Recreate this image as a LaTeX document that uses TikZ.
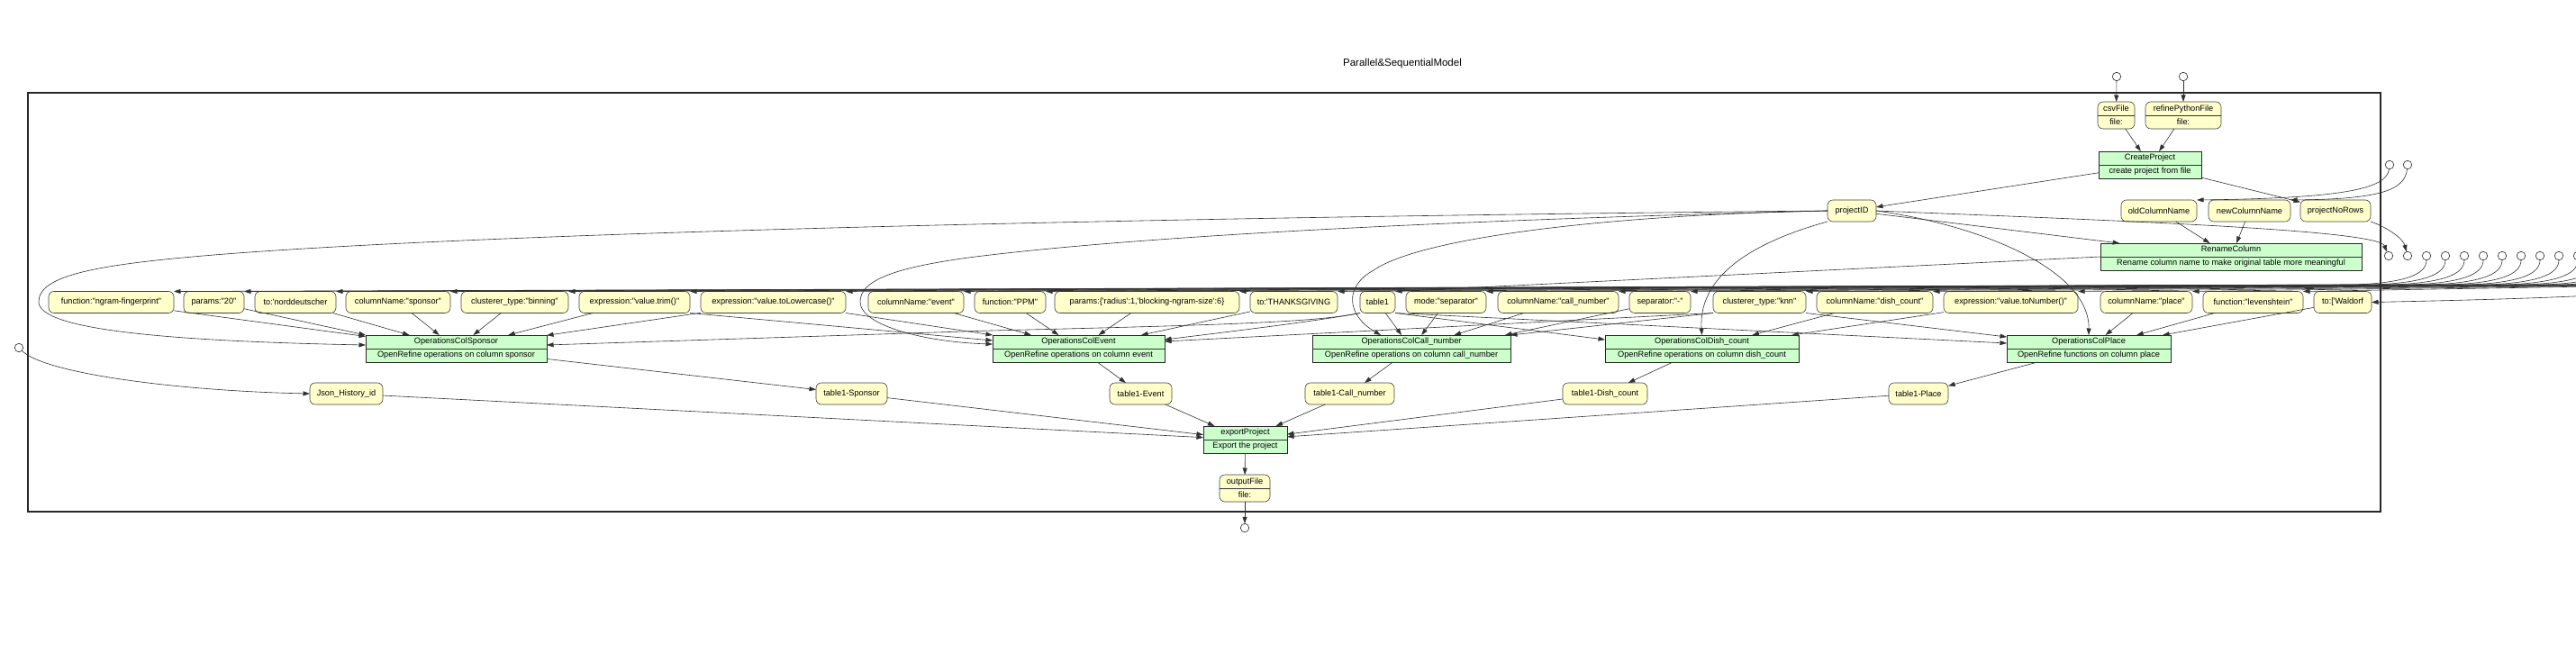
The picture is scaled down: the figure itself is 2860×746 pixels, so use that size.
\documentclass[tikz,border=0pt]{standalone}
\usepackage{fontspec}
\newfontfamily\lsans{Liberation Sans}
\usetikzlibrary{arrows.meta,calc}
\definecolor{yel}{HTML}{FFFFCC}
\definecolor{grn}{HTML}{CCFFCC}
\definecolor{edgec}{HTML}{303030}
\newcommand\Prog[6]{%
  \node[prog, minimum width=#4] (#1) at (#2,#3) {#5\\#6};
  \draw[sepline] (#1.west) -- (#1.east);}
\newcommand\Dat[6]{%
  \node[data2, minimum width=#4] (#1) at (#2,#3) {#5\\#6};
  \draw[sepline] (#1.west) -- (#1.east);}
\begin{document}
\begin{tikzpicture}[x=1pt,y=-1pt,
  every node/.style={font=\lsans\fontsize{9.2}{15}\selectfont, inner sep=0pt, outer sep=0pt},
  data/.style={draw=black!75, fill=yel, rounded corners=6pt, minimum height=24pt, line width=0.6pt},
  data2/.style={data, minimum height=30pt, align=center},
  prog/.style={draw=black!85, fill=grn, minimum height=30pt, align=center, line width=0.6pt},
  sepline/.style={draw=black!80, line width=0.6pt},
  port/.style={circle, draw=black!85, fill=white, minimum size=9.5pt, line width=0.6pt},
  arr/.style={draw=edgec, line width=0.6pt, -{Triangle[length=7.5pt,width=5pt]}},
  cluster/.style={draw=black!85, line width=1.3pt},
]
\useasboundingbox (0,0) rectangle (2860,746);
\clip (0,0) rectangle (2860,746);
\fill[white] (0,0) rectangle (2860,746);

\node[font=\lsans\fontsize{11.5}{13}\selectfont] (title) at (1557,71) {Parallel\&SequentialModel};
\draw[cluster] (31,103) rectangle (2643,568);

% ---------- top part ----------
\node[port] (ccsv) at (2350,85) {};
\node[port] (crpf) at (2424,85) {};
\Dat{csv}{2349.5}{128}{41}{csvFile}{file:}
\Dat{rpf}{2424}{128}{84}{refinePythonFile}{file:}
\Prog{cp}{2387}{183}{114}{CreateProject}{create project from file}
\node[port] (cold) at (2653,183) {};
\node[port] (cnew) at (2673,183) {};
\node[data, minimum width=54] (pid) at (2056,234) {projectID};
\node[data, minimum width=84] (oldcn) at (2397,234) {oldColumnName};
\node[data, minimum width=91] (newcn) at (2497.5,234) {newColumnName};
\node[data, minimum width=78] (nrows) at (2593,234) {projectNoRows};
\Prog{rc}{2477}{285}{290}{RenameColumn}{Rename column name to make original table more meaningful}
\node[port] (opid) at (2652,284) {};
\node[port] (onrows) at (2673,284) {};
\foreach \i in {1,...,20} {
  \pgfmathsetmacro\cx{2694+21*(\i-1)}
  \node[port] (k\i) at (\cx,284) {};
}

% ---------- parameter row ----------
\node[data, minimum width=139] (p1) at (123.5,335.5) {function:"ngram-fingerprint"};
\node[data, minimum width=67] (p2) at (237.5,335.5) {params:"20"};
\node[data, minimum width=90] (p3) at (328,335.5) {to:'norddeutscher};
\node[data, minimum width=116] (p4) at (442,335.5) {columnName:"sponsor"};
\node[data, minimum width=119] (p5) at (571.5,335.5) {clusterer\_type:"binning"};
\node[data, minimum width=123] (p6) at (704.5,335.5) {expression:"value.trim()"};
\node[data, minimum width=161] (p7) at (858.5,335.5) {expression:"value.toLowercase()"};
\node[data, minimum width=106] (p8) at (1017,335.5) {columnName:"event"};
\node[data, minimum width=79] (p9) at (1121.5,335.5) {function:"PPM"};
\node[data, minimum width=205] (p10) at (1273.5,335.5) {params:\{'radius':1,'blocking-ngram-size':6\}};
\node[data, minimum width=97] (p11) at (1436.5,335.5) {to:'THANKSGIVING};
\node[data, minimum width=39] (t1) at (1529.5,335.5) {table1};
\node[data, minimum width=89] (p12) at (1605.5,335.5) {mode:"separator"};
\node[data, minimum width=134] (p13) at (1730,335.5) {columnName:"call\_number"};
\node[data, minimum width=68] (p14) at (1843,335.5) {separator:"-"};
\node[data, minimum width=103] (p15) at (1953.5,335.5) {clusterer\_type:"knn"};
\node[data, minimum width=129] (p16) at (2081.5,335.5) {columnName:"dish\_count"};
\node[data, minimum width=149] (p17) at (2232.5,335.5) {expression:"value.toNumber()"};
\node[data, minimum width=102] (p18) at (2383,335.5) {columnName:"place"};
\node[data, minimum width=111] (p19) at (2501.5,335.5) {function:"levenshtein"};
\node[data, minimum width=64] (p20) at (2601,335.5) {to:['Waldorf};

% ---------- operations ----------
\Prog{ops}{506.5}{387}{201}{OperationsColSponsor}{OpenRefine operations on column sponsor}
\Prog{ope}{1197.5}{387}{191}{OperationsColEvent}{OpenRefine operations on column event}
\Prog{opc}{1567}{387}{220}{OperationsColCall\_number}{OpenRefine operations on column call\_number}
\Prog{opd}{1889.5}{387}{215}{OperationsColDish\_count}{OpenRefine operations on column dish\_count}
\Prog{opp}{2319}{387}{182}{OperationsColPlace}{OpenRefine functions on column place}

% ---------- outputs ----------
\node[port] (cjson) at (21,386) {};
\node[data, minimum width=81] (json) at (384.5,437) {Json\_History\_id};
\node[data, minimum width=79] (ts) at (945.5,437) {table1-Sponsor};
\node[data, minimum width=69] (te) at (1266.5,437) {table1-Event};
\node[data, minimum width=99] (tc) at (1498.5,437) {table1-Call\_number};
\node[data, minimum width=94] (td) at (1782,437) {table1-Dish\_count};
\node[data, minimum width=66] (tp) at (2130,437) {table1-Place};
\Prog{exp}{1382.5}{488}{93}{exportProject}{Export the project}
\Dat{out}{1382}{542}{56}{outputFile}{file:}
\node[port] (cout) at (1382,586) {};

% ---------- edges: top ----------
\draw[arr] (ccsv) -- (csv);
\draw[arr] (crpf) -- (rpf);
\draw[arr] (csv) -- (cp);
\draw[arr] (rpf) -- (cp);
\draw[arr] (cp) -- (pid);
\draw[arr] (cp) -- (nrows);
\draw[arr] (cold) .. controls (2650,210) and (2600,220) .. (oldcn.north east);
\draw[arr] (cnew) .. controls (2670,212) and (2640,221) .. (newcn.north east);
\draw[arr] (oldcn) -- (rc);
\draw[arr] (newcn) -- (rc);
\draw[arr] (pid) -- (rc);
\draw[arr] (pid.east) .. controls (2350,245) and (2640,255) .. (opid);
\draw[arr] (nrows.south east) .. controls (2650,252) and (2668,265) .. (onrows);
\draw[arr] (rc.west) -- (t1.north east);

% projectID to operations
\draw[arr] (pid.west) .. controls (1400,240) and (600,255) .. (250,282)
   .. controls (110,293) and (43,305) .. (43,335)
   .. controls (43,362) and (150,378) .. ($(ops.west)+(0,-4)$);
\draw[arr] (pid.west) .. controls (1700,242) and (1300,258) .. (1083,285)
   .. controls (990,297) and (955,312) .. (955,335)
   .. controls (955,362) and (1030,380) .. ($(ope.west)+(0,-5)$);
\draw[arr] (pid.west) .. controls (1800,238) and (1580,262) .. (1525,300)
   .. controls (1492,318) and (1495,350) .. ($(opc.north west)+(76,0)$);
\draw[arr] (pid.south west) .. controls (1960,265) and (1885,300) .. (opd.north);
\draw[arr] (pid.east) .. controls (2200,250) and (2320,300) .. (opp.north);

% parameter bundle
\foreach \i in {1,...,19} {
  \pgfmathsetmacro\cx{2694+21*(\i-1)}
  \draw[arr] (k\i) .. controls (\cx,305) and (\cx-25,314) .. (\cx-80,316) -- (p\i.north east);
}
\draw[arr] (k20) .. controls (3093,322) and (2900,330) .. (p20.east);

% into sponsor
\draw[arr] (p1) -- (ops);
\draw[arr] (p2) -- (ops.north west);
\draw[arr] (p3) -- (ops);
\draw[arr] (p4) -- (ops);
\draw[arr] (p5) -- (ops);
\draw[arr] (p6) -- (ops);
\draw[arr] (p7) -- (ops);
\draw[arr] (t1.south west) .. controls (1460,358) and (1350,361) .. (1100,367) -- ($(ops.east)+(0,-4)$);
% into event
\draw[arr] (p6.south east) -- ($(ope.west)+(0,-9)$);
\draw[arr] (p7.south east) -- (ope.north west);
\draw[arr] (p8) -- (ope);
\draw[arr] (p9) -- (ope);
\draw[arr] (p10) -- (ope);
\draw[arr] (p11) -- (ope);
\draw[arr] (t1.south west) .. controls (1460,357) and (1350,370) .. ($(ope.east)+(0,-10)$);
\draw[arr] (p15.south west) -- ($(ope.east)+(0,-8)$);
% into call_number
\draw[arr] (t1) -- (opc);
\draw[arr] (p12) -- (opc);
\draw[arr] (p13) -- (opc);
\draw[arr] (p14) -- ($(opc.north east)+(-6,0)$);
\draw[arr] (p15.south west) -- (opc.north east);
% into dish_count
\draw[arr] (t1.south east) -- ($(opd.west)+(0,-10)$);
\draw[arr] (p16) -- (opd);
\draw[arr] (p17) -- (opd);
% into place
\draw[arr] (t1.south east) -- ($(opp.west)+(0,-6)$);
\draw[arr] (p15.south east) -- ($(opp.west)+(0,-13)$);
\draw[arr] (p18) -- (opp);
\draw[arr] (p19) -- (opp);
\draw[arr] (p20) -- (opp);

% outputs
\draw[arr] (ops) -- (ts);
\draw[arr] (ope) -- (te);
\draw[arr] (opc) -- (tc);
\draw[arr] (opd) -- (td);
\draw[arr] (opp) -- (tp);
\draw[arr] (cjson) .. controls (50,415) and (200,434) .. (json.west);
\draw[arr] (json) -- (exp);
\draw[arr] (ts) -- (exp);
\draw[arr] (te) -- (exp);
\draw[arr] (tc) -- (exp);
\draw[arr] (td) -- (exp);
\draw[arr] (tp) -- (exp);
\draw[arr] (exp) -- (out);
\draw[arr] (out) -- (cout);
\end{tikzpicture}
\end{document}
